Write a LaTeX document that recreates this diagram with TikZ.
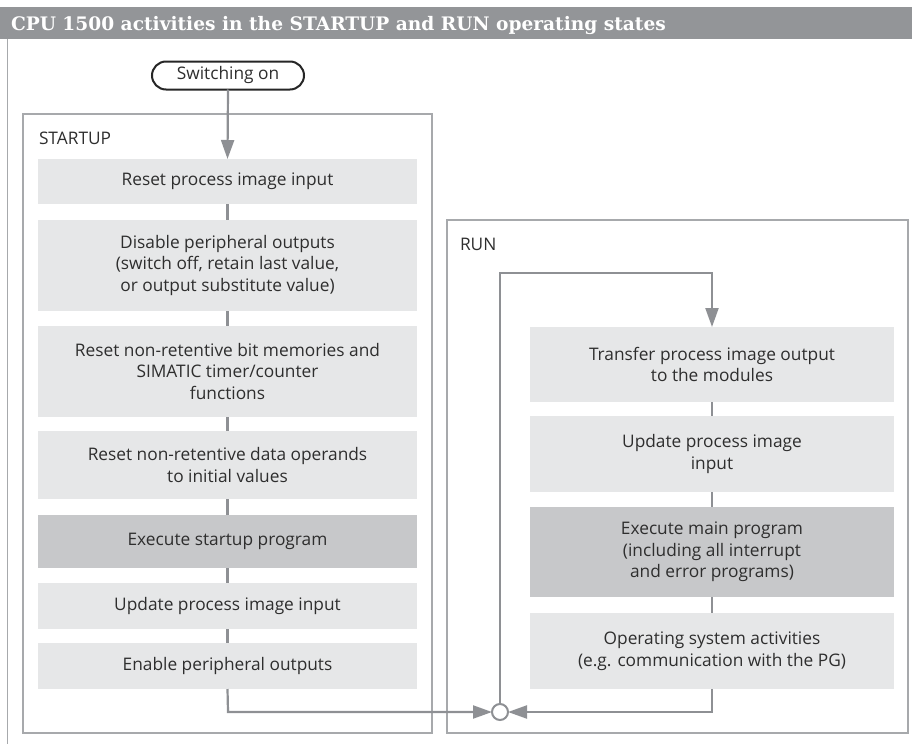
\documentclass[tikz,border=0pt]{standalone}
\usepackage{fontspec}
\setmainfont{Open Sans}
\newfontfamily\titlefont{DejaVu Serif}
\usetikzlibrary{arrows.meta,calc}
\definecolor{titlegray}{HTML}{939598}
\definecolor{framegray}{HTML}{A7A9AC}
\definecolor{linegray}{HTML}{8E9094}
\definecolor{boxlight}{HTML}{E6E7E8}
\definecolor{boxdark}{HTML}{C7C8CA}
\definecolor{textgray}{HTML}{2E2E2E}
\begin{document}
\begin{tikzpicture}[x=1pt,y=-1pt,
  every node/.style={inner sep=0pt,outer sep=0pt,text=textgray},
  bodyfont/.style={font=\fontsize{17.3}{21.7}\selectfont},
  pbox/.style={bodyfont,fill=boxlight,align=center,minimum width=#1},
  pboxdark/.style={pbox=#1,fill=boxdark},
  container/.style={draw=framegray,line width=1.4pt},
  conn/.style={draw=linegray,line width=2.2pt},
  arr/.style={conn,-{Triangle[length=19pt,width=13pt]}}
]
\useasboundingbox (0,0) rectangle (912,744);
% title bar
\fill[titlegray] (0,7) rectangle (912,39);
\node[anchor=base west,text=white,font=\titlefont\bfseries\fontsize{18.6}{21}\selectfont] (title) at (11,30.5) {CPU 1500 activities in the STARTUP and RUN operating states};
% outer left frame line
\draw[framegray,line width=1pt] (7.5,39) -- (7.5,744);
% containers
\draw[container] (23,114) rectangle (432,733);
\node[bodyfont,anchor=base west] (lstartup) at (39,144) {STARTUP};
\draw[container] (447,220) rectangle (908,733);
\node[bodyfont,anchor=base west] (lrun) at (460,250) {RUN};
% switching on
\node[bodyfont,draw=black!85,line width=2pt,rounded corners=14pt,minimum width=152pt,minimum height=28pt,fill=white] (sw) at (228,75.5) {Switching on};
% startup boxes
\node[pbox=379pt,minimum height=45pt] (s1) at (227.5,181.5) {Reset process image input};
\node[pbox=379pt,minimum height=91pt] (s2) at (227.5,265.5) {Disable peripheral outputs\\(switch off, retain last value,\\or output substitute value)};
\node[pbox=379pt,minimum height=91pt] (s3) at (227.5,371.5) {Reset non-retentive bit memories and\\SIMATIC timer/counter\\functions};
\node[pbox=379pt,minimum height=68pt] (s4) at (227.5,465) {Reset non-retentive data operands\\to initial values};
\node[pboxdark=379pt,minimum height=53pt] (s5) at (227.5,541.5) {Execute startup program};
\node[pbox=379pt,minimum height=46pt] (s6) at (227.5,606) {Update process image input};
\node[pbox=379pt,minimum height=46pt] (s7) at (227.5,666) {Enable peripheral outputs};
% run boxes
\node[pbox=364pt,minimum height=75pt] (r1) at (712,364.5) {Transfer process image output\\to the modules};
\node[pbox=364pt,minimum height=76pt] (r2) at (712,454) {Update process image\\input};
\node[pboxdark=364pt,minimum height=90pt] (r3) at (712,552) {Execute main program\\(including all interrupt\\and error programs)};
\node[pbox=364pt,minimum height=76pt] (r4) at (712,651) {Operating system activities\\(e.g. communication with the PG)};
% junction
\node[circle,draw=linegray,line width=2pt,fill=white,minimum size=16pt] (j) at (500,712) {};
\coordinate (jl) at (228,712);
\coordinate (jr) at (712,712);
\coordinate (lt) at (500,273);
\coordinate (rt) at (712,273);
% connectors
\draw[arr] (sw.south) -- (s1.north);
\foreach \a/\b in {s1/s2,s2/s3,s3/s4,s4/s5,s5/s6,s6/s7,r1/r2,r2/r3,r3/r4}
  \draw[conn] (\a.south) -- (\b.north);
\draw[arr] (s7.south) -- (jl) -- (j.west);
\draw[arr] (r4.south) -- (jr) -- (j.east);
\draw[arr] (j.north) -- (lt) -- (rt) -- (r1.north);
\end{tikzpicture}
\end{document}
